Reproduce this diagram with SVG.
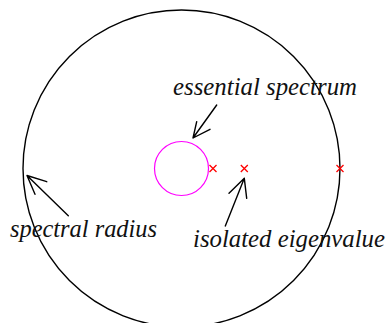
<svg xmlns="http://www.w3.org/2000/svg" width="389" height="323" viewBox="0 0 389 323">
<style>
.arr{fill:none;stroke:#000;stroke-width:1.4;stroke-linecap:round;stroke-linejoin:round}
.x{stroke:#f00;stroke-width:1.3;fill:none}
.lbl{font-family:'Liberation Serif','Times New Roman',serif;font-style:italic;font-size:25px;fill:#111}
</style>
<rect width="389" height="323" fill="#fff"/>
<g id="spectral-circle"><circle cx="181.5" cy="168.5" r="158.5" fill="none" stroke="#000" stroke-width="1.4"/></g>
<g id="essential-spectrum"><circle cx="181.5" cy="168.5" r="27" fill="none" stroke="#f0f" stroke-width="1.2"/></g>
<g id="eigenvalues">
<path class="x" d="M209.5,165 l7,7 M216.5,165 l-7,7"/>
<path class="x" d="M240.8,165 l7,7 M247.8,165 l-7,7"/>
<path class="x" d="M336.5,165 l7,7 M343.5,165 l-7,7"/>
</g>
<g id="connectors">
<path class="arr" d="M216.7,105 L193,138 M196.7,121.7 L193,138 L210,129.3"/>
<path class="arr" d="M68.3,215.7 L27,175.5 M46.7,181.7 L27,175.5 L35,194.3"/>
<path class="arr" d="M225.3,226 L244.3,178.3 M229,193.3 L244.3,178.3 L246.7,198.3"/>
</g>
<g id="label-essential"><text class="lbl" x="173" y="95" textLength="184" lengthAdjust="spacingAndGlyphs">essential spectrum</text></g>
<g id="label-radius"><text class="lbl" x="10" y="237.3" textLength="147" lengthAdjust="spacingAndGlyphs">spectral radius</text></g>
<g id="label-isolated"><text class="lbl" x="193" y="246.7" textLength="192" lengthAdjust="spacingAndGlyphs">isolated eigenvalue</text></g>
</svg>
